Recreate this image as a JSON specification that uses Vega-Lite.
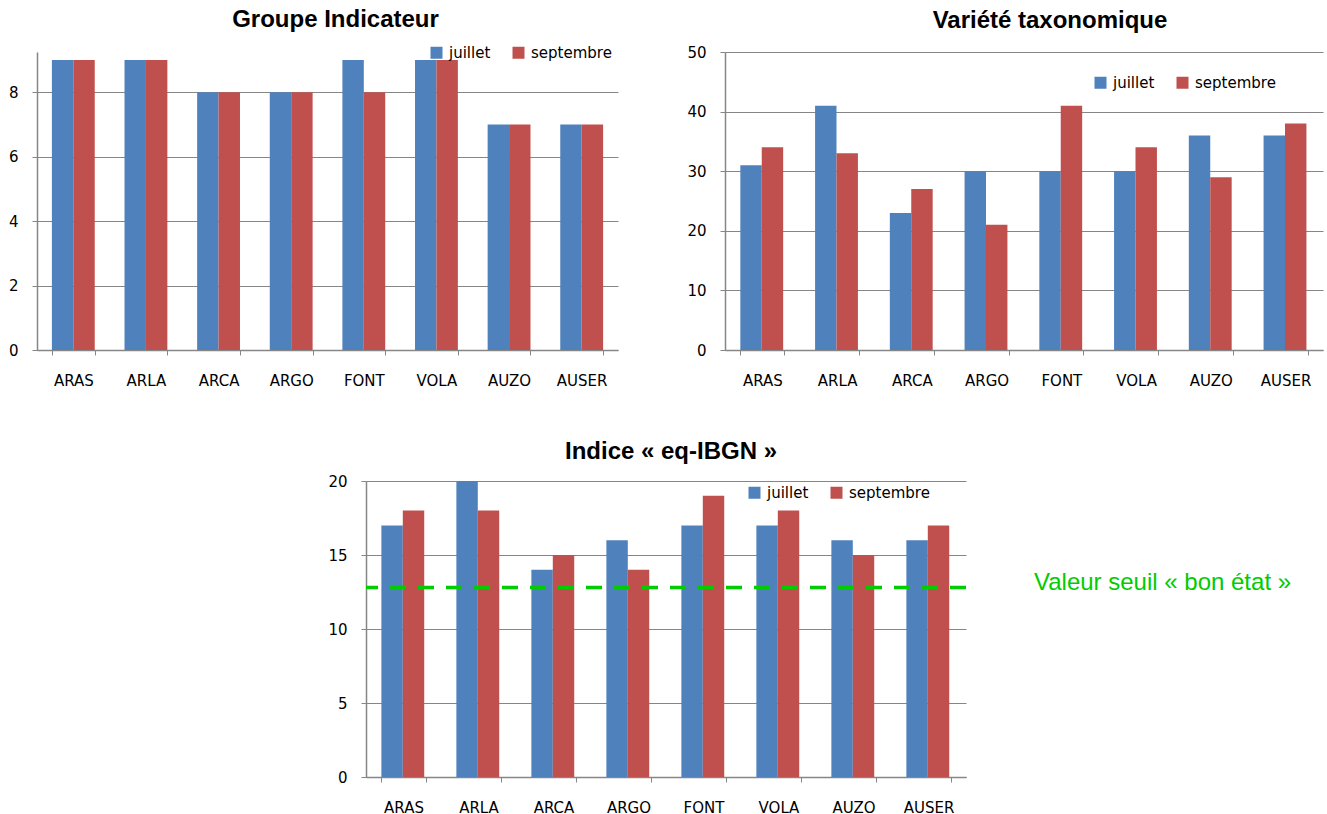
{
  "$schema": "https://vega.github.io/schema/vega-lite/v6.json",
  "background": "white",
  "padding": {"left": 8, "top": 8, "right": 2, "bottom": 2},
  "config": {
    "font": "DejaVu Sans",
    "view": {"stroke": null},
    "axis": {
      "labelFont": "DejaVu Sans",
      "labelFontSize": 15,
      "labelColor": "#000000",
      "domainColor": "#868686",
      "tickColor": "#868686",
      "gridColor": "#868686",
      "gridOpacity": 1,
      "gridWidth": 1.2,
      "domainWidth": 1.5,
      "tickSize": 5,
      "title": null
    },
    "axisX": {"labelAngle": 0, "tickBand": "extent", "tickExtra": true, "labelPadding": 18, "grid": false},
    "axisY": {"labelPadding": 14, "grid": true},
    "title": {"font": "Liberation Sans", "fontSize": 24, "fontWeight": "bold", "color": "#000000", "anchor": "middle"},
    "legend": {
      "title": null,
      "orient": "none",
      "direction": "horizontal",
      "symbolType": "square",
      "symbolSize": 144,
      "symbolStrokeWidth": 0,
      "labelFont": "DejaVu Sans",
      "labelFontSize": 15,
      "labelColor": "#000000",
      "labelOffset": 5,
      "columnPadding": 20
    }
  },
  "data": {
    "values": [
      {"station": "ARAS", "mois": "juillet", "gi": 9, "vt": 31, "ibgn": 17},
      {"station": "ARAS", "mois": "septembre", "gi": 9, "vt": 34, "ibgn": 18},
      {"station": "ARLA", "mois": "juillet", "gi": 9, "vt": 41, "ibgn": 20},
      {"station": "ARLA", "mois": "septembre", "gi": 9, "vt": 33, "ibgn": 18},
      {"station": "ARCA", "mois": "juillet", "gi": 8, "vt": 23, "ibgn": 14},
      {"station": "ARCA", "mois": "septembre", "gi": 8, "vt": 27, "ibgn": 15},
      {"station": "ARGO", "mois": "juillet", "gi": 8, "vt": 30, "ibgn": 16},
      {"station": "ARGO", "mois": "septembre", "gi": 8, "vt": 21, "ibgn": 14},
      {"station": "FONT", "mois": "juillet", "gi": 9, "vt": 30, "ibgn": 17},
      {"station": "FONT", "mois": "septembre", "gi": 8, "vt": 41, "ibgn": 19},
      {"station": "VOLA", "mois": "juillet", "gi": 9, "vt": 30, "ibgn": 17},
      {"station": "VOLA", "mois": "septembre", "gi": 9, "vt": 34, "ibgn": 18},
      {"station": "AUZO", "mois": "juillet", "gi": 7, "vt": 36, "ibgn": 16},
      {"station": "AUZO", "mois": "septembre", "gi": 7, "vt": 29, "ibgn": 15},
      {"station": "AUSER", "mois": "juillet", "gi": 7, "vt": 36, "ibgn": 16},
      {"station": "AUSER", "mois": "septembre", "gi": 7, "vt": 38, "ibgn": 17}
    ]
  },
  "spacing": 52,
  "resolve": {"scale": {"color": "independent"}, "legend": {"color": "independent"}},
  "vconcat": [
    {
      "spacing": 68,
      "hconcat": [
        {
          "width": 581,
          "height": 298,
          "title": {"text": "Groupe Indicateur", "dx": 8, "offset": 13},
          "mark": {"type": "bar"},
          "encoding": {
            "x": {"field": "station", "type": "nominal", "sort": ["ARAS", "ARLA", "ARCA", "ARGO", "FONT", "VOLA", "AUZO", "AUSER"], "scale": {"paddingInner": 0.41, "paddingOuter": 0.205}},
            "xOffset": {"field": "mois", "type": "nominal", "sort": ["juillet", "septembre"], "scale": {"paddingInner": 0, "paddingOuter": 0}},
            "y": {"field": "gi", "type": "quantitative", "scale": {"domain": [0, 9.2483], "nice": false}, "axis": {"values": [0, 2, 4, 6, 8]}},
            "color": {"field": "mois", "type": "nominal", "scale": {"domain": ["juillet", "septembre"], "range": ["#4F81BD", "#C0504D"]}, "legend": {"legendX": 392, "legendY": -7}}
          }
        },
        {
          "width": 598,
          "height": 298,
          "title": {"text": "Variété taxonomique", "dx": 26, "offset": 12},
          "mark": {"type": "bar"},
          "encoding": {
            "x": {"field": "station", "type": "nominal", "sort": ["ARAS", "ARLA", "ARCA", "ARGO", "FONT", "VOLA", "AUZO", "AUSER"], "scale": {"paddingInner": 0.41, "paddingOuter": 0.205}},
            "xOffset": {"field": "mois", "type": "nominal", "sort": ["juillet", "septembre"], "scale": {"paddingInner": 0, "paddingOuter": 0}},
            "y": {"field": "vt", "type": "quantitative", "scale": {"domain": [0, 50], "nice": false}, "axis": {"values": [0, 10, 20, 30, 40, 50]}},
            "color": {"field": "mois", "type": "nominal", "scale": {"domain": ["juillet", "septembre"], "range": ["#4F81BD", "#C0504D"]}, "legend": {"legendX": 368, "legendY": 23}}
          }
        }
      ],
      "resolve": {"scale": {"color": "independent"}, "legend": {"color": "independent"}}
    },
    {
      "spacing": 20,
      "resolve": {"scale": {"color": "independent"}, "legend": {"color": "independent"}},
      "hconcat": [
        {
          "width": 270,
          "height": 10,
          "data": {"values": []},
          "mark": {"type": "point", "opacity": 0},
          "encoding": {}
        },
        {
          "width": 600,
          "height": 296,
          "title": {"text": "Indice « eq-IBGN »", "dx": 5, "offset": 10},
          "layer": [
            {
              "mark": {"type": "bar"},
              "encoding": {
                "x": {"field": "station", "type": "nominal", "sort": ["ARAS", "ARLA", "ARCA", "ARGO", "FONT", "VOLA", "AUZO", "AUSER"], "scale": {"paddingInner": 0.41, "paddingOuter": 0.205}},
                "xOffset": {"field": "mois", "type": "nominal", "sort": ["juillet", "septembre"], "scale": {"paddingInner": 0, "paddingOuter": 0}},
                "y": {"field": "ibgn", "type": "quantitative", "scale": {"domain": [0, 20], "nice": false}, "axis": {"values": [0, 5, 10, 15, 20]}},
                "color": {"field": "mois", "type": "nominal", "scale": {"domain": ["juillet", "septembre"], "range": ["#4F81BD", "#C0504D"]}, "legend": {"legendX": 381, "legendY": 4}}
              }
            },
            {
              "data": {"values": [{"seuil": 12.8, "label": "Valeur seuil « bon état »"}]},
              "mark": {"type": "rule", "color": "#00CC00", "strokeWidth": 3.5, "strokeDash": [16, 12]},
              "encoding": {
                "y": {"field": "seuil", "type": "quantitative", "scale": {"domain": [0, 20], "nice": false}}
              }
            },
            {
              "data": {"values": [{"seuil": 12.8, "label": "Valeur seuil « bon état »"}]},
              "mark": {"type": "text", "color": "#00CC00", "font": "Liberation Sans", "fontSize": 24, "align": "left", "baseline": "middle", "dx": 68, "dy": -5},
              "encoding": {
                "y": {"field": "seuil", "type": "quantitative", "scale": {"domain": [0, 20], "nice": false}},
                "x": {"value": "width"},
                "text": {"field": "label", "type": "nominal"}
              }
            }
          ]
        }
      ]
    }
  ]
}
